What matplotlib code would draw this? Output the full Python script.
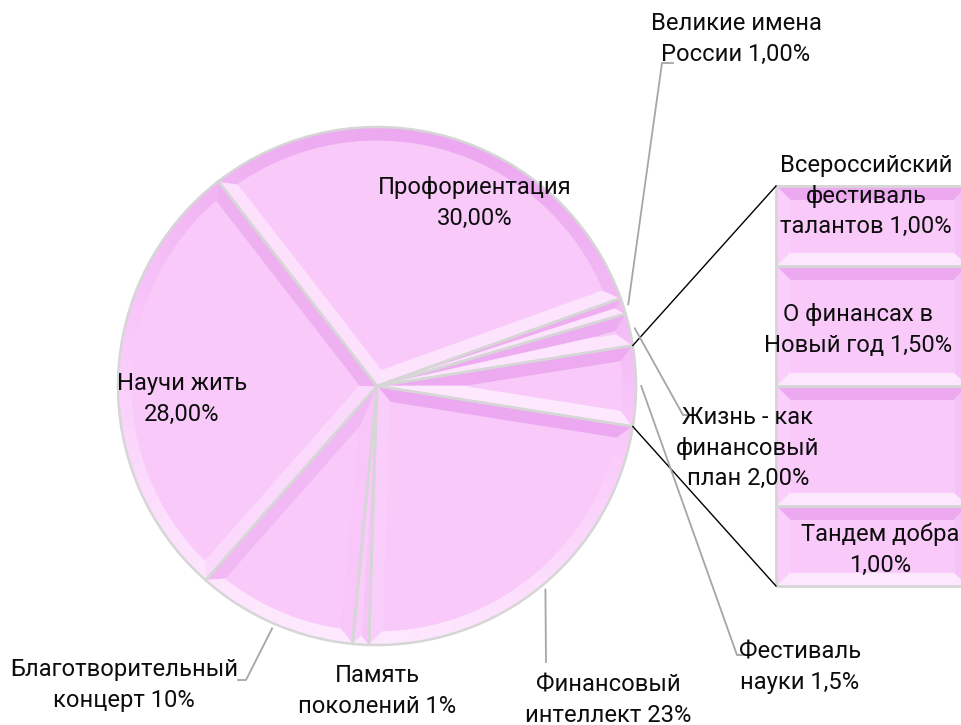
import numpy as np
import matplotlib
matplotlib.use("Agg")
import matplotlib.pyplot as plt
from matplotlib.patches import Polygon

W, H = 961, 725

# ---------------- data ----------------
pie_names = ["Другие", "Жизнь - как финансовый план", "Великие имена России",
             "Профориентация", "Научи жить", "Благотворительный концерт",
             "Память поколений", "Финансовый интеллект"]
pie_values = [5.0, 2.0, 1.0, 30.0, 28.0, 10.0, 1.0, 23.0]

bar_names = ["Тандем добра", "Фестиваль науки", "О финансах в Новый год",
             "Всероссийский фестиваль талантов"]
bar_values = [1.0, 1.5, 1.5, 1.0]

label_texts = [
    "Профориентация\n30,00%",
    "Научи жить\n28,00%",
    "Великие имена\nРоссии 1,00%",
    "Всероссийский\nфестиваль\nталантов 1,00%",
    "О финансах в\nНовый год 1,50%",
    "Жизнь - как\nфинансовый\nплан 2,00%",
    "Тандем добра\n1,00%",
    "Фестиваль\nнауки 1,5%",
    "Финансовый\nинтеллект 23%",
    "Память\nпоколений 1%",
    "Благотворительный\nконцерт 10%",
]
# ---------------- layout (pixels, top-down) ----------------
label_xy_px = [(475, 203), (182, 399), (736, 39), (866, 196), (858, 330),
               (748, 448), (880, 550), (800, 667), (608, 700), (377, 691),
               (124, 685)]
# leader lines: (wedge index, following points in px)
leaders = [
    (2, [(662, 63), (673, 63)]),
    (1, [(683, 415), (690, 415)]),
    (0, [(737, 655), (745, 655)]),
    (7, [(546, 662)]),
    (5, [(246, 680), (238, 680)]),
]

PIE_CENTER_PX = (377, 386)
PIE_R = 259
BAR_BOX_PX = (776, 186, 192, 400)  # left, top, width, height

BASE = np.array([249, 201, 250]) / 255
LIGHT = np.array([253, 232, 253]) / 255
DARK = np.array([236, 168, 240]) / 255
LDIR = np.array([-0.2, -1.0])
LDIR = LDIR / np.linalg.norm(LDIR)
BEV = 14
EDGE = "#d6d6d6"


def shade(n):
    n = np.asarray(n, float)
    n = n / (np.linalg.norm(n) + 1e-12)
    t = float(np.clip(np.dot(n, LDIR), -1, 1))
    if t >= 0:
        c = BASE + t * (LIGHT - BASE)
    else:
        c = BASE + (-t) * (DARK - BASE)
    return tuple(np.clip(c, 0, 1))


plt.rcParams['font.family'] = ['Roboto', 'DejaVu Sans']
fig = plt.figure(figsize=(W / 100, H / 100), dpi=100)
fig.patch.set_facecolor("white")
ax = fig.add_axes([0, 0, 1, 1])
ax.set_zorder(3)
ax.patch.set_visible(False)

total = sum(pie_values)
start = -pie_values[0] / total * 360 / 2
explode = [0.02] + [0.006] * (len(pie_values) - 1)
wedges, _ = ax.pie(pie_values, startangle=start, counterclock=True,
                   radius=PIE_R, center=(PIE_CENTER_PX[0], H - PIE_CENTER_PX[1]),
                   explode=explode, frame=True,
                   wedgeprops=dict(facecolor="none", edgecolor=EDGE, linewidth=1.8))
ax.set_xlim(0, W)
ax.set_ylim(0, H)
ax.set_aspect("equal")
ax.set_axis_off()


def add_poly(axis, pts, color, z):
    axis.add_patch(Polygon(pts, closed=True, facecolor=color, edgecolor=color,
                           linewidth=0.6, zorder=z, clip_on=False))


def bevel_wedge(w, b):
    cx, cy = w.center
    r = w.r
    t1, t2 = np.radians(w.theta1), np.radians(w.theta2)
    mid = (t1 + t2) / 2
    a = (t2 - t1) / 2
    cm, sm = np.cos(mid), np.sin(mid)

    def g(p):
        p = np.atleast_2d(p)
        return np.column_stack([cx + cm * p[:, 0] - sm * p[:, 1],
                                cy + sm * p[:, 0] + cm * p[:, 1]])

    def gn(n):
        return np.array([cm * n[0] - sm * n[1], sm * n[0] + cm * n[1]])

    u = np.array([np.cos(a), np.sin(a)])
    nu = np.array([-np.sin(a), np.cos(a)])
    lo = np.array([np.cos(a), -np.sin(a)])
    nl = np.array([-np.sin(a), -np.cos(a)])
    rin = r - b
    O = np.zeros(2)
    d0 = b / np.sin(a)
    N = max(6, int(np.degrees(2 * a) / 2))
    outer_ang = np.linspace(-a, a, N + 1)
    outer = np.column_stack([r * np.cos(outer_ang), r * np.sin(outer_ang)])
    if d0 < rin - 1:
        tt = np.sqrt(rin ** 2 - b ** 2)
        Cu = tt * u - b * nu
        Cl = tt * lo - b * nl
        A = np.array([d0, 0.0])
        phi = np.arctan2(Cu[1], Cu[0])
        in_ang = np.linspace(-phi, phi, N + 1)
        inner = np.column_stack([rin * np.cos(in_ang), rin * np.sin(in_ang)])
        add_poly(ax, g(np.vstack([A, inner])), tuple(BASE), 1.6)
    else:
        P = np.array([r / (1 + np.sin(a)), 0.0])
        Cu = Cl = A = P
        inner = np.tile(P, (N + 1, 1))
    add_poly(ax, g(np.vstack([O, r * u, Cu, A])), shade(gn(nu)), 1.5)
    add_poly(ax, g(np.vstack([O, A, Cl, r * lo])), shade(gn(nl)), 1.5)
    for i in range(N):
        quad = np.vstack([outer[i], outer[i + 1], inner[i + 1], inner[i]])
        ang = (outer_ang[i] + outer_ang[i + 1]) / 2
        add_poly(ax, g(quad), shade(gn([np.cos(ang), np.sin(ang)])), 1.5)


for w in wedges:
    bevel_wedge(w, BEV)
    w.set_zorder(3)

# ---------------- bar of pie ----------------
bl, bt, bw, bh = BAR_BOX_PX
ax2 = fig.add_axes([bl / W, (H - bt - bh) / H, bw / W, bh / H])
ax2.set_zorder(1)
ax2.set_xlim(0, 1)
ax2.set_ylim(0, sum(bar_values))
ax2.set_axis_off()
bottoms = np.concatenate([[0.0], np.cumsum(bar_values)[:-1]])
rects = ax2.bar([0.5] * len(bar_values), bar_values, bottom=bottoms, width=1.0,
                facecolor="none", edgecolor=EDGE, linewidth=2.0, zorder=3,
                clip_on=False)
inv2 = ax2.transData.inverted()
for rc in rects:
    x0, y0 = rc.get_xy()
    X0, Y0 = ax2.transData.transform((x0, y0))
    X1, Y1 = ax2.transData.transform((x0 + rc.get_width(), y0 + rc.get_height()))
    b = BEV
    faces = [
        ([(X0, Y1), (X1, Y1), (X1 - b, Y1 - b), (X0 + b, Y1 - b)], (0, 1)),
        ([(X0, Y0), (X1, Y0), (X1 - b, Y0 + b), (X0 + b, Y0 + b)], (0, -1)),
        ([(X0, Y0), (X0, Y1), (X0 + b, Y1 - b), (X0 + b, Y0 + b)], (-1, 0)),
        ([(X1, Y0), (X1, Y1), (X1 - b, Y1 - b), (X1 - b, Y0 + b)], (1, 0)),
    ]
    add_poly(ax2, inv2.transform([(X0 + b, Y0 + b), (X1 - b, Y0 + b),
                                  (X1 - b, Y1 - b), (X0 + b, Y1 - b)]),
             tuple(BASE), 1.6)
    for pts, n in faces:
        add_poly(ax2, inv2.transform(pts), shade(n), 1.5)

# connector lines from the "other" wedge to the bar
inv1 = ax.transData.inverted()
ow = wedges[0]


def wpt(w, ang_deg, f=1.0):
    th = np.radians(ang_deg)
    return (w.center[0] + f * w.r * np.cos(th), w.center[1] + f * w.r * np.sin(th))


top_rect = rects[-1]
bot_rect = rects[0]
tl = inv1.transform(ax2.transData.transform(
    (top_rect.get_x(), top_rect.get_y() + top_rect.get_height())))
blc = inv1.transform(ax2.transData.transform((bot_rect.get_x(), bot_rect.get_y())))
p_top = wpt(ow, ow.theta2)
p_bot = wpt(ow, ow.theta1)
ax.plot([p_top[0], tl[0]], [p_top[1], tl[1]], color="black", lw=1.0, zorder=5,
        clip_on=False)
ax.plot([p_bot[0], blc[0]], [p_bot[1], blc[1]], color="black", lw=1.0, zorder=5,
        clip_on=False)

# leader lines
for wi, pts in leaders:
    w = wedges[wi]
    s = wpt(w, (w.theta1 + w.theta2) / 2, 1.02)
    xs = [s[0]] + [p[0] for p in pts]
    ys = [s[1]] + [H - p[1] for p in pts]
    ax.plot(xs, ys, color="#a6a6a6", lw=1.3, zorder=5, clip_on=False)

# ---------------- labels ----------------
renderer = fig.canvas.get_renderer()
probe = ax.text(0, 0, "Благотворительный", fontsize=20)
w20 = probe.get_window_extent(renderer).width
probe.remove()
fs = 20 * 228 / w20
p1 = ax.text(0, 0, "Ап", fontsize=fs, linespacing=1.0)
p2 = ax.text(0, 0, "Ап\nАп", fontsize=fs, linespacing=1.0)
adv = p2.get_window_extent(renderer).height - p1.get_window_extent(renderer).height
p1.remove()
p2.remove()
ls = 33.0 / adv

for txt, (x, y) in zip(label_texts, label_xy_px):
    ax.text(x, H - y, txt, fontsize=fs, linespacing=ls, ha="center", va="center",
            color="#0d0d0d", zorder=7, clip_on=False)

fig.savefig("out.png", dpi=100, facecolor="white")
